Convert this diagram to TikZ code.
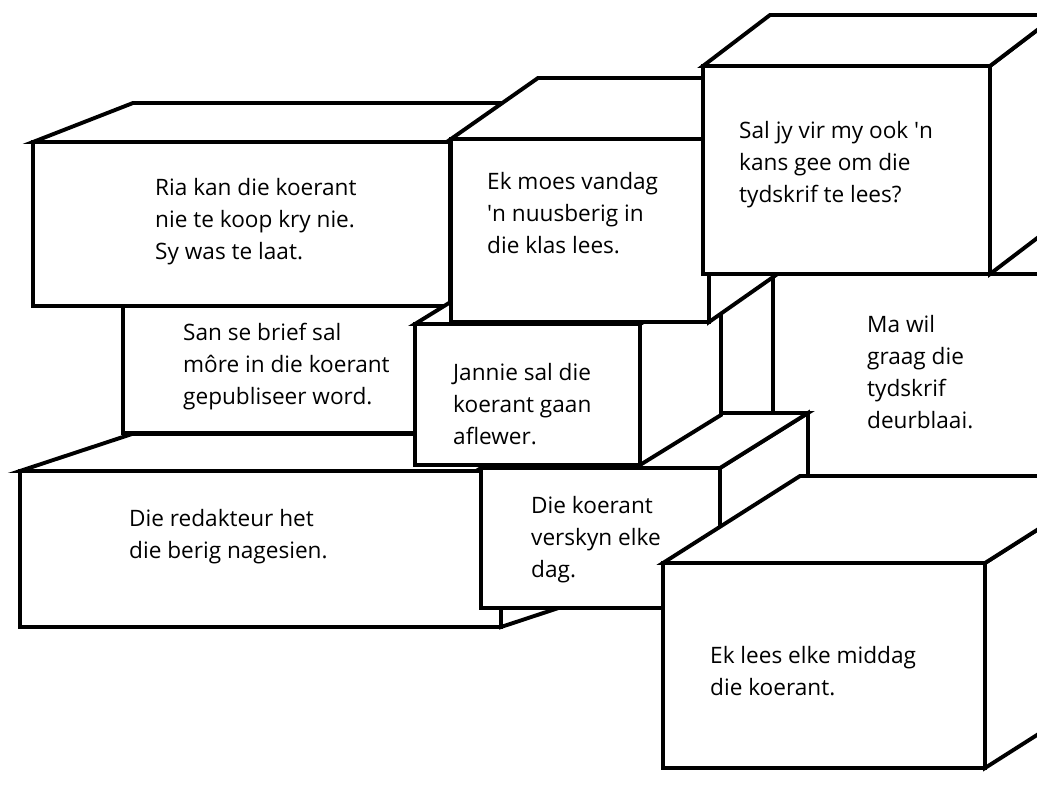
\documentclass[tikz,border=0pt]{standalone}
\usepackage{fontspec}
\setmainfont{Open Sans}
\tikzset{
  cubeface/.style={fill=white,draw=black,line width=3.9pt,line join=miter},
  txt/.style={anchor=north west,inner sep=0pt,align=left,font=\fontsize{22.6}{32}\selectfont}
}
% #1,#2 front top-left; #3 width; #4 height; #5,#6 depth offset (right, up)
\newcommand\drawcube[6]{%
  \filldraw[cubeface] (#1+#3,#2) -- ++(#5,-#6) -- ++(0,#4) -- ++(-#5,#6) -- cycle;
  \filldraw[cubeface] (#1,#2) -- ++(#5,-#6) -- ++(#3,0) -- ++(-#5,#6) -- cycle;
  \filldraw[cubeface] (#1,#2) rectangle ++(#3,#4);}
\begin{document}
\begin{tikzpicture}[x=1pt,y=-1pt]
\useasboundingbox (0,0) rectangle (1037,787);
\clip (0,0) rectangle (1037,787);
\fill[white] (0,0) rectangle (1037,787);
% back boxes
\filldraw[cubeface] (773,274) rectangle (1100,520);          % Ma wil
\filldraw[cubeface] (123,290) rectangle (440,433);           % San
\drawcube{20}{471}{481}{156}{112}{37}                        % redakteur
\drawcube{33}{142}{417}{164}{100}{39}                        % Ria
\drawcube{481}{468}{239}{140}{88}{55}                        % koerant verskyn
\drawcube{415}{324}{225}{141}{81}{50}                        % Jannie
\drawcube{451}{139}{258}{183}{87}{61}                        % Ek moes
\drawcube{703}{66}{287}{208}{67}{51}                         % Sal jy
\drawcube{663}{563}{322}{205}{137}{87}                       % Ek lees
% texts
\node[txt] (ma) at (867,315) {Ma wil\\graag die\\tydskrif\\deurblaai.};
\node[txt] (san) at (183,323) {San se brief sal\\môre in die koerant\\gepubliseer word.};
\node[txt] (red) at (129,509) {Die redakteur het\\die berig nagesien.};
\node[txt] (ria) at (155,178) {Ria kan die koerant\\nie te koop kry nie.\\Sy was te laat.};
\node[txt] (dag) at (531,496) {Die koerant\\verskyn elke\\dag.};
\node[txt] (jan) at (453,363) {Jannie sal die\\koerant gaan\\aflewer.};
\node[txt] (ekm) at (487,172) {Ek moes vandag\\{\textquotesingle}n nuusberig in\\die klas lees.};
\node[txt] (sal) at (739,121) {Sal jy vir my ook {\textquotesingle}n\\kans gee om die\\tydskrif te lees?};
\node[txt] (ekl) at (710,646) {Ek lees elke middag\\die koerant.};
\end{tikzpicture}
\end{document}
